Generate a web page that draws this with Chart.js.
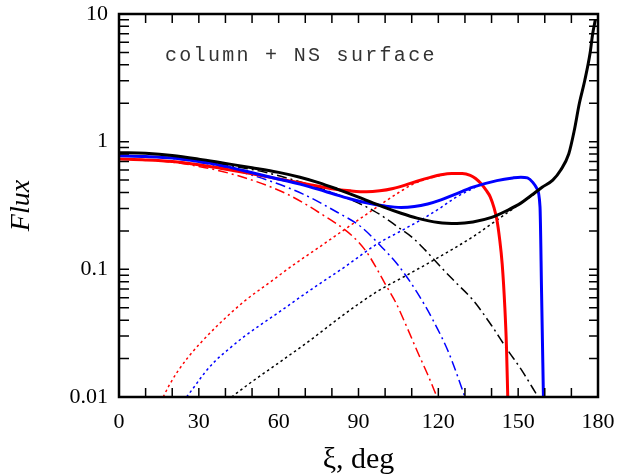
<!DOCTYPE html>
<html>
<head>
<meta charset="utf-8">
<script src="https://cdn.jsdelivr.net/npm/chart.js@4.4.0/dist/chart.umd.min.js"></script>
<style>
  html, body { margin: 0; padding: 0; background: #fff; }
  #wrap { width: 619px; height: 474px; }
</style>
</head>
<body>
<div id="wrap"><canvas id="fluxChart"></canvas></div>
<script>
// [xi (deg), flux]
const blackTotal = [[0,0.82],[10,0.81],[20,0.78],[30,0.73],[40,0.675],[50,0.625],[60,0.575],[68,0.527],[75,0.478],[82,0.425],[90,0.368],[99,0.31],[106,0.275],[112,0.252],[120,0.233],[127,0.229],[133,0.235],[140,0.255],[146,0.29],[151,0.33],[155,0.38],[159,0.44],[163,0.5],[166,0.6],[169,0.8],[171,1.2],[173,2.0],[175,3.0],[177,4.9],[178,7.0],[179,9.0]];
const blackColumn = [[0,0.82],[10,0.81],[20,0.775],[30,0.72],[40,0.66],[55,0.575],[70,0.47],[80,0.4],[90,0.33],[95.4,0.29],[100.6,0.248],[104.3,0.218],[110.6,0.175],[115,0.142],[120.6,0.106],[126,0.081],[133,0.0575],[140,0.0363],[146,0.0234],[151,0.0166],[157.5,0.01]];
const blackSurface = [[42.3,0.01],[50,0.0132],[60,0.0185],[72,0.028],[85,0.045],[97,0.067],[109,0.092],[120.6,0.126],[133,0.18],[142,0.243],[152,0.34],[157,0.4]];

const blueTotal = [[0,0.775],[10,0.765],[20,0.745],[30,0.70],[38,0.655],[47,0.592],[57,0.527],[68,0.465],[75,0.423],[81,0.387],[87,0.356],[93,0.332],[100,0.313],[106,0.305],[111,0.31],[116,0.325],[121,0.35],[126,0.385],[133,0.44],[142,0.495],[148,0.52],[151,0.527],[153.5,0.52],[155.5,0.48],[157,0.43],[158.2,0.31],[158.8,0.065],[159.5,0.0098]];
const blueColumn = [[0,0.775],[10,0.765],[20,0.74],[30,0.69],[38,0.64],[47,0.57],[57,0.49],[69,0.39],[82,0.28],[91,0.215],[98,0.155],[105,0.107],[112,0.066],[118,0.04],[124,0.022],[130,0.01]];
const blueSurface = [[25.4,0.01],[28,0.0118],[32,0.0153],[36,0.019],[41,0.0235],[47,0.0297],[60,0.046],[72,0.069],[85,0.105],[97,0.158],[106,0.2],[115,0.255],[121,0.305],[126,0.36],[131,0.41],[134,0.44]];

const redTotal = [[0,0.73],[10,0.72],[20,0.70],[30,0.66],[38,0.62],[50,0.56],[60,0.51],[68,0.477],[75,0.447],[80,0.428],[87,0.412],[93,0.405],[98,0.412],[103,0.43],[108,0.46],[112,0.49],[117,0.525],[121,0.55],[125,0.563],[129,0.563],[132,0.545],[134,0.515],[136,0.47],[138,0.415],[139.5,0.37],[141,0.3],[142,0.245],[143,0.175],[144,0.11],[145,0.05],[145.6,0.025],[146.1,0.0098]];
const redColumn = [[0,0.73],[10,0.72],[20,0.69],[30,0.64],[38,0.59],[50,0.5],[63,0.39],[75,0.28],[88,0.18],[93,0.137],[97,0.1],[100,0.077],[104,0.055],[108,0.036],[112,0.023],[116,0.015],[119.5,0.01]];
const redSurface = [[16.6,0.01],[19,0.0125],[22,0.0158],[26,0.0205],[31,0.027],[38,0.038],[47,0.056],[57,0.08],[66,0.11],[75,0.148],[84,0.2],[93,0.27],[100,0.34],[106,0.41],[111,0.47],[117,0.52],[122,0.55]];

const yTickValues = [0.01, 0.1, 1, 10];
const xTitle = 'ξ, deg';
const yTitle = 'Flux';
const note = 'column + NS surface';

const SOLID = [];
const DASHDOT = [10, 4, 2, 4];
const DOTTED = [2.5, 3];

function series(pairs, color, dash) {
    return {
        data: pairs.map(p => ({ x: p[0], y: p[1] })),
        borderColor: color,
        borderWidth: dash.length ? 1.5 : 3,
        borderDash: dash,
        pointRadius: 0,
        fill: false,
        cubicInterpolationMode: 'monotone'
    };
}

// inner tick marks on all four sides, frame, and the text note
const frameTicks = {
    id: 'frameTicks',
    afterDatasetsDraw(chart) {
        const { ctx, chartArea: a, scales: { x, y } } = chart;
        ctx.save();
        ctx.strokeStyle = '#000';
        ctx.lineWidth = 1.5;
        ctx.beginPath();
        for (let d = 10; d < 180; d += 10) {
            const px = x.getPixelForValue(d);
            ctx.moveTo(px, a.bottom); ctx.lineTo(px, a.bottom - 9);
            ctx.moveTo(px, a.top); ctx.lineTo(px, a.top + 9);
        }
        for (let e = -2; e < 1; e++) {
            for (let m = 1; m < 10; m++) {
                if (e === -2 && m === 1) continue;
                const py = y.getPixelForValue(m * Math.pow(10, e));
                ctx.moveTo(a.left, py); ctx.lineTo(a.left + 10, py);
                ctx.moveTo(a.right, py); ctx.lineTo(a.right - 9, py);
            }
        }
        ctx.stroke();
        ctx.lineWidth = 2.5;
        ctx.strokeRect(a.left, a.top, a.right - a.left, a.bottom - a.top);

        ctx.fillStyle = '#333';
        ctx.font = '20px "Liberation Mono", monospace';
        ctx.letterSpacing = '2.3px';
        ctx.textBaseline = 'alphabetic';
        ctx.fillText(note, 165, 61);
        ctx.restore();
    }
};

new Chart(document.getElementById('fluxChart'), {
    type: 'line',
    data: {
        datasets: [
            series(blackTotal, '#000000', SOLID),
            series(blueTotal, '#0000ff', SOLID),
            series(redTotal, '#ff0000', SOLID),
            series(blackColumn, '#000000', DASHDOT),
            series(blueColumn, '#0000ff', DASHDOT),
            series(redColumn, '#ff0000', DASHDOT),
            series(blackSurface, '#000000', DOTTED),
            series(blueSurface, '#0000ff', DOTTED),
            series(redSurface, '#ff0000', DOTTED)
        ]
    },
    options: {
        responsive: true,
        maintainAspectRatio: false,
        animation: false,
        layout: { padding: { top: 14, right: 21, left: 0, bottom: 0 } },
        plugins: {
            legend: { display: false },
            tooltip: { enabled: false }
        },
        scales: {
            x: {
                type: 'linear',
                min: 0,
                max: 180,
                grid: { display: false, drawTicks: false },
                border: { display: false },
                afterFit: s => { s.height = 77; s.paddingLeft = 0; s.paddingRight = 0; },
                ticks: {
                    stepSize: 30,
                    padding: 12,
                    color: '#000',
                    font: { family: '"Liberation Serif", serif', size: 22 }
                },
                title: {
                    display: true,
                    text: xTitle,
                    color: '#000',
                    padding: { top: 0, bottom: 0 },
                    font: { family: '"Liberation Serif", serif', size: 30, lineHeight: 0.9 }
                }
            },
            y: {
                type: 'logarithmic',
                min: 0.01,
                max: 10,
                grid: { display: false, drawTicks: false },
                border: { display: false },
                afterFit: s => { s.width = 119; s.paddingTop = 0; s.paddingBottom = 0; },
                afterBuildTicks: s => { s.ticks = yTickValues.map(v => ({ value: v })); },
                ticks: {
                    padding: 11,
                    color: '#000',
                    font: { family: '"Liberation Serif", serif', size: 22 },
                    callback: v => String(v)
                },
                title: {
                    display: true,
                    text: yTitle,
                    color: '#000',
                    padding: { top: 5, bottom: 0 },
                    font: { family: '"Liberation Serif", serif', size: 28, style: 'italic' }
                }
            }
        }
    },
    plugins: [frameTicks]
});
</script>
</body>
</html>
